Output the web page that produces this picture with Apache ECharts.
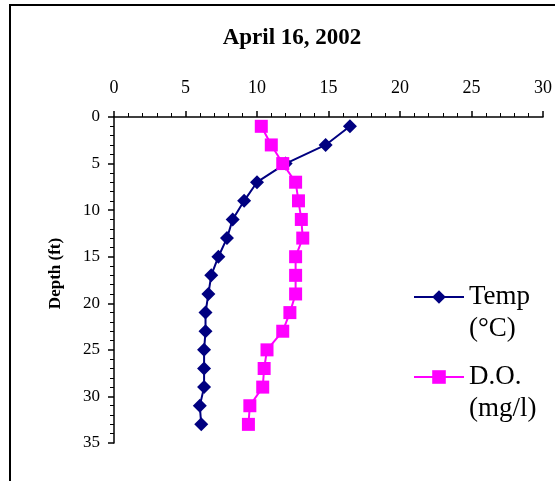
<!DOCTYPE html>
<html>
<head>
<meta charset="utf-8">
<script src="https://cdn.jsdelivr.net/npm/echarts@6/dist/echarts.min.js"></script>
<style>
  html, body { margin: 0; padding: 0; background: #fff; }
  #chart { width: 555px; height: 481px; }
</style>
</head>
<body>
<div id="chart"></div>
<script>
// depth of each reading (ft)
const depths = [1, 3, 5, 7, 9, 11, 13, 15, 17, 19, 21, 23, 25, 27, 29, 31, 33];
// water temperature (°C)
const temp = [16.5, 14.8, 12.0, 10.0, 9.1, 8.3, 7.9, 7.3, 6.8, 6.6, 6.4, 6.4, 6.3, 6.3, 6.3, 6.0, 6.1];
// dissolved oxygen (mg/l)
const dissolvedO2 = [10.3, 11.0, 11.8, 12.7, 12.9, 13.1, 13.2, 12.7, 12.7, 12.7, 12.3, 11.8, 10.7, 10.5, 10.4, 9.5, 9.4];

const serif = '"Liberation Serif", "DejaVu Serif", serif';

let myChart = echarts.init(document.getElementById('chart'));

// legend text: first line empty so the icon sits beside the first real line
const legendFmt = name => name === 'Temp' ? '\nTemp\n(°C)' : '\nD.O.\n(mg/l)';
const legendBase = {
  orient: 'vertical',
  left: 408,
  itemWidth: 50,
  itemHeight: 17,
  itemGap: 0,
  formatter: legendFmt,
  textStyle: { fontFamily: serif, fontSize: 27, color: '#000', lineHeight: 32 }
};

let option = {
  animation: false,
  graphic: [{
    type: 'rect',
    shape: { x: 10, y: 5, width: 600, height: 520 },
    style: { fill: 'none', stroke: '#000', lineWidth: 2 }
  }],
  title: {
    text: 'April 16, 2002',
    left: 287,
    top: 22,
    textAlign: 'center',
    textStyle: { fontFamily: serif, fontSize: 23, fontWeight: 'bold', color: '#000' }
  },
  legend: [
    Object.assign({ top: 244, data: ['Temp'] }, legendBase),
    Object.assign({ top: 324, data: ['D.O.'] }, legendBase)
  ],
  grid: { left: 114, right: 12, top: 117, bottom: 38 },
  xAxis: {
    type: 'value',
    position: 'top',
    min: 0,
    max: 30,
    interval: 5,
    splitLine: { show: false },
    axisLine: { show: true, lineStyle: { color: '#000', width: 1.5 } },
    axisTick: { show: true, length: 6, lineStyle: { color: '#000', width: 1.5 } },
    minorTick: { show: true, splitNumber: 5, length: 4, lineStyle: { color: '#000', width: 1 } },
    axisLabel: { fontFamily: serif, fontSize: 18, color: '#000', margin: 20 }
  },
  yAxis: {
    type: 'value',
    inverse: true,
    min: 0,
    max: 35,
    interval: 5,
    name: 'Depth (ft)',
    nameLocation: 'middle',
    nameGap: 50,
    nameTextStyle: { fontFamily: serif, fontSize: 17, fontWeight: 'bold', color: '#000', padding: [0, 0, 0, 13] },
    splitLine: { show: false },
    axisLine: { show: true, lineStyle: { color: '#000', width: 1.5 } },
    axisTick: { show: true, length: 6, lineStyle: { color: '#000', width: 1.5 } },
    minorTick: { show: true, splitNumber: 5, length: 4, lineStyle: { color: '#000', width: 1 } },
    axisLabel: { fontFamily: serif, fontSize: 17, color: '#000', margin: 14 }
  },
  series: [
    {
      name: 'Temp',
      type: 'line',
      symbol: 'diamond',
      symbolSize: 14,
      color: '#000080',
      lineStyle: { width: 2, color: '#000080' },
      itemStyle: { color: '#000080' },
      data: depths.map((d, i) => [temp[i], d])
    },
    {
      name: 'D.O.',
      type: 'line',
      symbol: 'rect',
      symbolSize: 13,
      color: '#ff00ff',
      lineStyle: { width: 2, color: '#ff00ff' },
      itemStyle: { color: '#ff00ff' },
      data: depths.map((d, i) => [dissolvedO2[i], d])
    }
  ]
};

myChart.setOption(option);
</script>
</body>
</html>
